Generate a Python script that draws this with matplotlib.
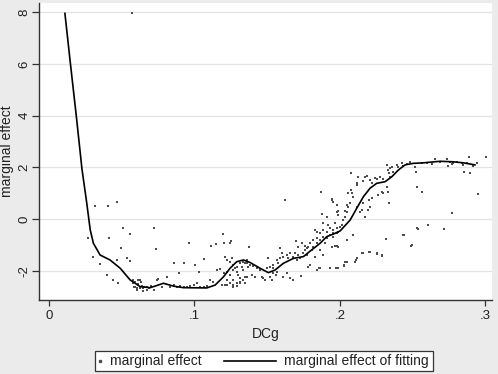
import numpy as np
import matplotlib
matplotlib.use("Agg")
import matplotlib.pyplot as plt
from matplotlib.lines import Line2D
from matplotlib.patches import Rectangle

plt.rcParams['font.family'] = ['Liberation Sans', 'DejaVu Sans']

# scatter: marginal effect
dcg = [
    0.0574,
    0.0318, 0.0405, 0.0467, 0.0508, 0.0554, 0.0272, 0.0414, 0.0496, 0.0306, 0.0352,
    0.0471, 0.0535, 0.0554, 0.0402, 0.0439, 0.0473, 0.0581, 0.0611, 0.0634, 0.0592,
    0.0604, 0.0627, 0.0650, 0.0673,
    0.0577, 0.0593, 0.0609, 0.0627, 0.0639, 0.0655, 0.0673, 0.0582, 0.0605, 0.0623,
    0.0646, 0.0685, 0.0701, 0.0719, 0.0724, 0.0733, 0.0742, 0.0753, 0.0776,
    0.0811, 0.0834, 0.0857, 0.0880, 0.0902, 0.0925, 0.0948, 0.0971, 0.0994, 0.1017,
    0.1040, 0.1063, 0.1085, 0.1108, 0.1131,
    0.0863, 0.0895, 0.0925, 0.0960, 0.1001, 0.1033, 0.1067, 0.1113, 0.1150, 0.1195,
    0.1204, 0.1246, 0.1250,
    0.1154, 0.1177, 0.1200, 0.1223, 0.1246, 0.1268, 0.1291, 0.1314, 0.1268, 0.1246,
    0.1223, 0.1268, 0.1291, 0.1314, 0.1337, 0.1360,
    0.1211, 0.1227, 0.1245, 0.1257, 0.1268, 0.1280, 0.1291, 0.1302, 0.1314, 0.1325,
    0.1337, 0.1348, 0.1360, 0.1371, 0.1227, 0.1245, 0.1268, 0.1291, 0.1314, 0.1211,
    0.1188, 0.1378,
    0.1623, 0.1870, 0.1944, 0.1955, 0.1978, 0.1985, 0.1989, 0.1875, 0.1909, 0.1886,
    0.1921, 0.1829, 0.1841, 0.1863, 0.1886, 0.1909, 0.1932, 0.1955, 0.1978,
    0.1699, 0.1715, 0.1738, 0.1760, 0.1772, 0.1795, 0.1818, 0.1841,
    0.1612, 0.1635, 0.1657, 0.1680, 0.1733, 0.1783, 0.1795, 0.1841, 0.1859, 0.1932,
    0.1989,
    0.1348, 0.1348, 0.1394, 0.1417, 0.1463, 0.1474, 0.1486, 0.1520, 0.1531, 0.1543,
    0.1561,
    0.1337, 0.1360, 0.1383, 0.1406, 0.1428, 0.1451, 0.1497, 0.1520, 0.1543, 0.1566,
    0.1577, 0.1589, 0.1612, 0.1635, 0.1646, 0.1657, 0.1680, 0.1692, 0.1703, 0.1715,
    0.1726, 0.1749, 0.1760, 0.1772, 0.1783, 0.1806, 0.1818, 0.1841, 0.1863, 0.1898,
    0.1909, 0.1932, 0.1955, 0.1966, 0.1886, 0.1863, 0.1886, 0.1829, 0.1589, 0.1600,
    0.1509, 0.1543, 0.1566,
    0.2074, 0.2127, 0.2120, 0.2161, 0.2172, 0.2184, 0.2207, 0.2218, 0.2241, 0.2253,
    0.2275, 0.2294, 0.2321, 0.2328, 0.2344, 0.2356, 0.2367, 0.2340, 0.2344, 0.2390,
    0.2401, 0.2424, 0.2436, 0.2459, 0.2481, 0.2516, 0.2523, 0.2532, 0.2562, 0.2532,
    0.2607, 0.2490, 0.2440, 0.2317,
    0.1955, 0.1978, 0.1989, 0.2001, 0.2012, 0.2024, 0.2035, 0.2046, 0.2058, 0.2069,
    0.2081, 0.2092, 0.2115, 0.2138, 0.2149, 0.2161, 0.2172, 0.2195, 0.2202, 0.2207,
    0.2218, 0.2264, 0.2287, 0.2298, 0.2321, 0.2340, 0.2333,
    0.1943, 0.1955, 0.1978, 0.2035, 0.2046, 0.2058, 0.2074, 0.2115,
    0.1966, 0.1989, 0.2046, 0.2092, 0.1973, 0.2028, 0.2035, 0.2104, 0.2115, 0.2149,
    0.2207, 0.2253, 0.2287, 0.1943, 0.1978,
    0.2653, 0.2733, 0.2756, 0.2779, 0.2745, 0.2767, 0.2836, 0.2848, 0.2889, 0.2912,
    0.2939, 0.3001, 0.2630, 0.2596, 0.2561, 0.2687, 0.2802, 0.2871,
    0.2852, 0.2893, 0.2561, 0.2951, 0.2767, 0.2607, 0.2717,
    0.2534, 0.2497, 0.2435, 0.2314, 0.2287, 0.2253, 0.2202, 0.2157, 0.2110, 0.2047,
    0.2030, 0.1978, 0.1863, 0.1840,
]
effect = [
    7.95,
    0.51, 0.51, 0.65, -0.35, -0.58, -0.71, -0.72, -1.12, -1.47, -1.74,
    -1.57, -1.48, -1.61, -2.15, -2.34, -2.47, -2.47, -2.34, -2.41, -2.60,
    -2.67, -2.63, -2.67, -2.63,
    -2.34, -2.41, -2.50, -2.34, -2.58, -2.63, -2.73, -2.63, -2.73, -2.67,
    -2.77, -2.67, -2.58, -2.73, -0.32, -1.15, -2.34, -2.31, -2.60,
    -2.22, -2.60, -2.54, -2.60, -2.58, -2.60, -2.63, -2.58, -2.54, -2.47,
    -2.60, -2.63, -2.58, -2.34, -2.41,
    -1.70, -2.09, -1.67, -0.90, -1.78, -2.02, -1.53, -1.02, -0.97, -0.58,
    -0.93, -0.93, -0.84,
    -1.96, -1.93, -2.09, -2.02, -2.15, -1.96, -1.83, -1.70, -2.34, -2.47,
    -2.54, -2.60, -2.58, -2.47, -2.34, -2.22,
    -1.44, -1.57, -1.64, -1.51, -1.76, -1.89, -2.02, -2.15, -2.28, -1.83,
    -1.96, -1.70, -1.57, -1.83, -2.34, -2.47, -2.54, -2.47, -2.41, -2.54,
    -2.54, -1.06,
    0.75, 1.04, 0.77, 0.68, 0.55, 0.32, 0.17, 0.20, 0.10, -0.16,
    -0.22, -0.41, -0.48, -0.54, -0.67, -0.74, -0.61, -0.67, -0.54,
    -0.84, -1.06, -0.90, -1.03, -1.12, -0.93, -0.80, -0.93,
    -2.21, -2.09, -2.28, -2.34, -2.19, -1.83, -1.76, -1.96, -1.89, -1.89,
    -1.89,
    -2.21, -2.45, -2.15, -2.21, -2.21, -2.28, -2.34, -2.21, -2.34, -2.09,
    -2.15,
    -1.64, -1.70, -1.76, -1.80, -1.89, -1.96, -1.89, -1.83, -1.76, -1.57,
    -1.70, -1.51, -1.44, -1.38, -1.51, -1.31, -1.44, -1.31, -1.57, -1.38,
    -1.51, -1.31, -1.19, -1.38, -1.06, -1.19, -1.06, -0.74, -0.80, -0.93,
    -0.48, -0.35, -0.41, -0.16, -0.41, -1.19, -1.38, -1.44, -1.12, -1.31,
    -1.51, -1.89, -2.02,
    1.80, 1.65, 1.32, 1.48, 1.65, 1.67, 1.52, 1.39, 1.61, 1.54,
    1.62, 1.54, 2.10, 1.92, 1.97, 2.03, 1.84, 1.78, 1.65, 2.10,
    2.01, 2.16, 2.06, 2.14, 2.23, 2.03, 1.84, 1.26, 1.07, -0.35,
    -0.22, -1.03, -0.61, -0.76,
    -0.54, -0.35, -0.48, -0.31, -0.22, -0.03, 0.10, 0.30, 0.49, 0.62,
    1.00, 0.85, 0.49, 0.30, 0.36, 0.62, 0.10, 0.36, 0.75, 0.49,
    0.81, 0.94, 1.07, 1.00, 1.26, 0.62, 1.07,
    0.75, 0.68, 0.30, 0.33, 0.55, 1.00, 1.13, 1.39,
    -1.03, -1.06, -0.80, -0.61, -1.89, -1.80, -1.64, -1.64, -1.51, -1.31,
    -1.25, -1.34, -1.42, -1.06, -1.03,
    2.32, 2.33, 2.23, 2.16, 2.06, 2.14, 2.19, 2.10, 2.39, 2.06,
    2.19, 2.39, 2.14, 2.19, 2.16, 2.23, 2.23, 2.16,
    1.81, 1.77, 1.07, 0.96, 0.26, -0.22, -0.39,
    -0.37, -0.99, -0.61, -0.76, -1.38, -1.31, -1.25, -1.29, -1.57, -1.64,
    -1.76, -1.89, -1.89, -1.96,
]

# fitted curve: marginal effect of fitting
fit_x = [0.011, 0.015, 0.019, 0.0227, 0.026, 0.0284, 0.0306, 0.0352, 0.042, 0.049,
         0.0558, 0.0627, 0.0696, 0.074, 0.0787, 0.0856, 0.0924, 0.1085, 0.1142, 0.12,
         0.1245, 0.129, 0.1337, 0.1383, 0.1451, 0.1508, 0.1554, 0.1611, 0.168, 0.1749,
         0.1806, 0.1863, 0.1909, 0.1955, 0.2001, 0.207, 0.2115, 0.2161, 0.2207, 0.2253,
         0.231, 0.2356, 0.2401, 0.2447, 0.2504, 0.2573, 0.2687, 0.2779, 0.2848, 0.2928]
fit_y = [7.95, 5.9, 3.9, 1.95, 0.63, -0.41, -0.93, -1.38, -1.57, -1.89,
         -2.34, -2.6, -2.64, -2.56, -2.47, -2.58, -2.64, -2.65, -2.54, -2.22,
         -1.89, -1.64, -1.57, -1.67, -1.89, -2.06, -1.96, -1.70, -1.51, -1.44,
         -1.18, -0.93, -0.67, -0.57, -0.45, -0.03, 0.42, 0.87, 1.2, 1.39,
         1.45, 1.64, 1.9, 2.1, 2.16, 2.18, 2.24, 2.22, 2.18, 2.1]

xticks = [0, 0.1, 0.2, 0.3]
xticklabels = ['0', '.1', '.2', '.3']
yticks = [-2, 0, 2, 4, 6, 8]

W, H = 498, 374
fig = plt.figure(figsize=(W / 100, H / 100), dpi=100, facecolor='#ebebeb')
ax = fig.add_axes([39.3 / W, 1 - 300 / H, (492 - 39.3) / W, 297 / H])
ax.set_facecolor('white')

dot_color = '#4d4d4d'
ax.scatter(dcg, effect, s=3, color=dot_color, linewidths=0, marker='s', zorder=2)
ax.plot(fit_x, fit_y, color='black', linewidth=1.2, zorder=3)

ax.set_xlim(-0.0066, 0.3045)
ax.set_ylim(-3.116, 8.351)
ax.set_xticks(xticks)
ax.set_xticklabels(xticklabels)
ax.set_yticks(yticks)
ax.set_yticklabels([str(v) for v in yticks], rotation=90, va='center')
ax.grid(axis='y', color='#e4e4e4', linewidth=0.9)
ax.set_axisbelow(True)

for s in ['top', 'right']:
    ax.spines[s].set_visible(False)
for s in ['left', 'bottom']:
    ax.spines[s].set_color('#333333')
    ax.spines[s].set_linewidth(1.0)
ax.tick_params(axis='y', direction='out', length=5, width=0.9, color='#333333',
               labelsize=9.5, labelcolor='#222222', pad=1.5)
ax.tick_params(axis='x', direction='out', length=4, width=0.9, color='#333333',
               labelsize=9.5, labelcolor='#222222', pad=3.5)

ax.set_xlabel('DCg', fontsize=10, color='#222222', labelpad=3)
ax.set_ylabel('marginal effect', fontsize=10, color='#222222')
ax.yaxis.set_label_coords(-0.056, 0.5)

# legend box drawn below the plot, Stata style
box = Rectangle((95 / W, 1 - 371 / H), (433 - 95) / W, 20 / H, transform=fig.transFigure,
                facecolor='white', edgecolor='#333333', linewidth=0.9)
fig.add_artist(box)
ly = 1 - 361 / H
fig.add_artist(Line2D([100 / W], [ly], transform=fig.transFigure, marker='s',
                      markersize=1.7, color=dot_color, linestyle='none'))
fig.text(110 / W, ly, 'marginal effect', fontsize=10, color='#222222', va='center')
fig.add_artist(Line2D([224 / W, 276 / W], [ly, ly], transform=fig.transFigure,
                      color='black', linewidth=1.2))
fig.text(284 / W, ly, 'marginal effect of fitting', fontsize=10, color='#222222',
         va='center')

fig.savefig('out.png', dpi=100, facecolor=fig.get_facecolor())
